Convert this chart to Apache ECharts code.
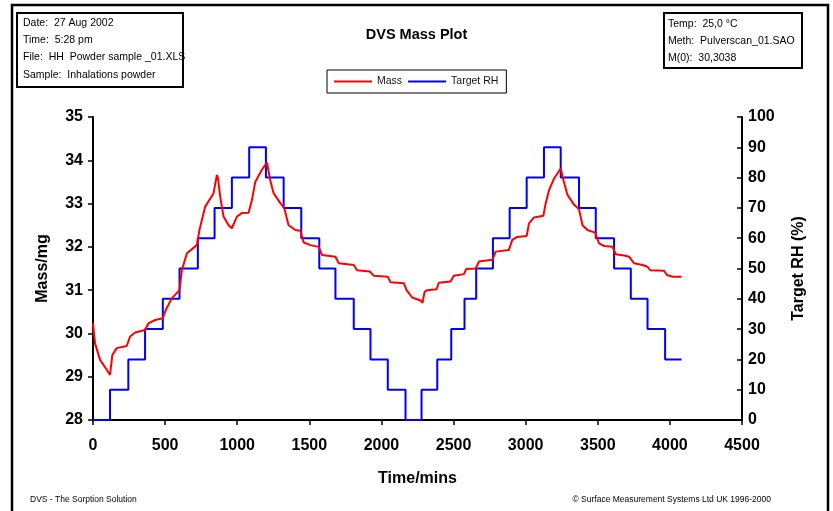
<!DOCTYPE html>
<html>
<head>
<meta charset="utf-8">
<script src="https://cdn.jsdelivr.net/npm/echarts@6/dist/echarts.min.js"></script>
<style>
html,body{margin:0;padding:0;background:#fff;}
#c{width:833px;height:511px;}
</style>
</head>
<body>
<div id="c"></div>
<script>
// ---- data ----
const massTime = [0,14,49,95,118,134,164,234,257,292,361,384,431,484,507,546,600,616,651,720,738,778,836,859,866,882,905,940,963,998,1032,1079,1102,1125,1171,1206,1229,1252,1299,1326,1356,1403,1438,1461,1507,1565,1588,1681,1704,1808,1831,1919,1947,2044,2063,2155,2174,2213,2271,2285,2299,2317,2382,2398,2479,2502,2572,2588,2653,2676,2769,2792,2884,2907,2942,3007,3023,3058,3123,3139,3162,3197,3243,3262,3290,3336,3370,3394,3428,3481,3509,3544,3602,3625,3683,3718,3752,3810,3845,3863,3960,3979,4019,4081];
const massValue = [30.23,29.77,29.39,29.16,29.04,29.50,29.66,29.71,29.93,30.02,30.08,30.23,30.31,30.35,30.56,30.81,31.00,31.46,31.85,32.04,32.39,32.93,33.24,33.66,33.60,33.16,32.70,32.50,32.43,32.70,32.78,32.79,33.08,33.50,33.78,33.95,33.54,33.24,33.01,32.90,32.50,32.39,32.37,32.10,32.04,32.00,31.81,31.77,31.62,31.58,31.46,31.43,31.33,31.31,31.18,31.16,31.00,30.83,30.76,30.71,30.96,31.00,31.02,31.17,31.20,31.33,31.37,31.49,31.50,31.66,31.70,31.89,31.93,32.16,32.23,32.25,32.54,32.68,32.72,33.01,33.31,33.58,33.81,33.54,33.20,32.97,32.87,32.50,32.39,32.33,32.08,32.02,32.00,31.83,31.80,31.77,31.62,31.58,31.54,31.46,31.45,31.35,31.31,31.31];
const rhStart = [0,118,245,361,484,600,727,843,963,1083,1199,1322,1444,1569,1681,1808,1924,2044,2167,2278,2387,2484,2576,2657,2773,2889,3007,3127,3243,3370,3486,3613,3729,3845,3967];
const rhLevel = [0,10,20,30,40,50,60,70,80,90,80,70,60,50,40,30,20,10,0,10,20,30,40,50,60,70,80,90,80,70,60,50,40,30,20];
const rhEndTime = 4081;
const infoLeft = ['Date:  27 Aug 2002','Time:  5:28 pm','File:  HH  Powder sample _01.XLS','Sample:  Inhalations powder'];
const infoRight = ['Temp:  25,0 \u00b0C','Meth:  Pulverscan_01.SAO','M(0):  30,3038'];

const FF = "'Liberation Sans', Arial, Helvetica, sans-serif";
const massData = massTime.map((t,i)=>[t, massValue[i]]);
const rhData = rhStart.map((t,i)=>[t, rhLevel[i]]);
rhData.push([rhEndTime, rhLevel[rhLevel.length-1]]);

const graphics = [];
graphics.push({type:'rect', shape:{x:12,y:5,width:816,height:520}, style:{fill:'none',stroke:'#000',lineWidth:2.5}, silent:true});
graphics.push({type:'rect', shape:{x:17,y:13,width:166,height:74}, style:{fill:'none',stroke:'#000',lineWidth:2}, silent:true});
graphics.push({type:'rect', shape:{x:664,y:13,width:138,height:55}, style:{fill:'none',stroke:'#000',lineWidth:2}, silent:true});
infoLeft.forEach((s,i)=>graphics.push({type:'text', x:23, y:23+i*17.3, style:{text:s, font:'10.5px '+FF, fill:'#000', verticalAlign:'middle'}}));
infoRight.forEach((s,i)=>graphics.push({type:'text', x:668, y:24+i*17, style:{text:s, font:'10.5px '+FF, fill:'#000', verticalAlign:'middle'}}));
graphics.push({type:'text', x:30, y:500, style:{text:'DVS - The Sorption Solution', font:'8.5px '+FF, fill:'#000', verticalAlign:'middle'}});
graphics.push({type:'text', x:771, y:500, style:{text:'\u00a9 Surface Measurement Systems Ltd UK 1996-2000', font:'8.5px '+FF, fill:'#000', verticalAlign:'middle', align:'right'}});

const chart = echarts.init(document.getElementById('c'));
chart.setOption({
  animation:false,
  backgroundColor:'#fff',
  title:{text:'DVS Mass Plot', left:'center', top:22, textStyle:{fontFamily:FF, fontWeight:'bold', fontSize:14.5, color:'#000'}},
  legend:{
    left:327, top:70, padding:[6,8,6,7], itemGap:6, itemWidth:38, itemHeight:2, icon:'rect',
    borderColor:'#000', borderWidth:1,
    textStyle:{fontFamily:FF, fontSize:10.5, color:'#111'},
    data:['Mass','Target RH']
  },
  grid:{left:93, right:91, top:117, bottom:91, outerBoundsMode:'none'},
  xAxis:{
    type:'value', min:0, max:4500, interval:500,
    name:'Time/mins', nameLocation:'middle', nameGap:51,
    nameTextStyle:{fontFamily:FF, fontWeight:'bold', fontSize:16, color:'#000'},
    axisLine:{lineStyle:{color:'#000', width:2}},
    axisTick:{show:true, length:5, lineStyle:{color:'#000', width:1.5}},
    axisLabel:{fontFamily:FF, fontWeight:'bold', fontSize:16, color:'#000', margin:18, formatter:(v)=>String(v)},
    splitLine:{show:false}
  },
  yAxis:[{
    type:'value', min:28, max:35, interval:1, position:'left',
    name:'Mass/mg', nameLocation:'middle', nameGap:42,
    nameTextStyle:{fontFamily:FF, fontWeight:'bold', fontSize:16, color:'#000'},
    axisLine:{show:true, lineStyle:{color:'#000', width:2}},
    axisTick:{show:true, length:5, lineStyle:{color:'#000', width:1.5}},
    axisLabel:{fontFamily:FF, fontWeight:'bold', fontSize:16, color:'#000', margin:10, formatter:(v)=>String(v)},
    splitLine:{show:false}
  },{
    type:'value', min:0, max:100, interval:10, position:'right',
    name:'Target RH (%)', nameLocation:'middle', nameGap:49,
    nameTextStyle:{fontFamily:FF, fontWeight:'bold', fontSize:16, color:'#000'},
    axisLine:{show:true, lineStyle:{color:'#000', width:2}},
    axisTick:{show:true, inside:true, length:5, lineStyle:{color:'#000', width:1.5}},
    axisLabel:{fontFamily:FF, fontWeight:'bold', fontSize:16, color:'#000', margin:6, formatter:(v)=>String(v)},
    splitLine:{show:false}
  }],
  series:[{
    name:'Mass', type:'line', yAxisIndex:0, data:massData, showSymbol:false, symbol:'none',
    lineStyle:{color:'#ff0000', width:2}, itemStyle:{color:'#ff0000'}, z:3
  },{
    name:'Target RH', type:'line', yAxisIndex:1, data:rhData, step:'end', showSymbol:false, symbol:'none',
    lineStyle:{color:'#0000ff', width:2}, itemStyle:{color:'#0000ff'}, z:2
  }],
  graphic:graphics
});
</script>
</body>
</html>
